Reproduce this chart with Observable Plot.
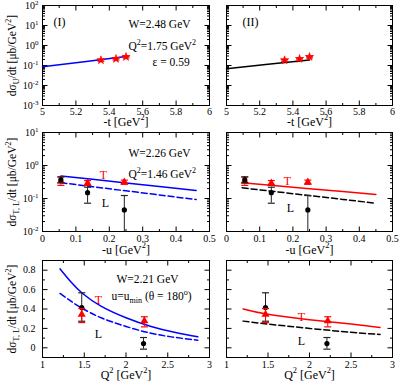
<!DOCTYPE html>
<html><head><meta charset="utf-8">
<script src="https://cdn.jsdelivr.net/npm/d3@7"></script>
<script src="https://cdn.jsdelivr.net/npm/@observablehq/plot@0.6"></script>
<style>
body{margin:0;background:#fff;}
#chart{position:relative;width:399px;height:388px;overflow:hidden;background:#fff;}
</style></head><body><div id="chart"></div>
<script>
// ---------- data ----------
// Row 1: dσ_U/dt vs -t
const tData = [5.35, 5.44, 5.50];
const sigU = [0.185, 0.215, 0.27];
const sigULo = [0.165, 0.19, 0.24];
const sigUHi = [0.205, 0.24, 0.30];
const tCurveI = [5.0, 5.25, 5.51];
const sigUCurveI = [0.086, 0.155, 0.29];
const tCurveII = [5.0, 5.25, 5.5];
const sigUCurveII = [0.068, 0.114, 0.19];

// Row 2: dσ_T,L/dt vs -u
const uData = [0.055, 0.135, 0.245];
const sigTu = [0.335, 0.29, 0.31];
const sigTuLo = [0.25, 0.25, 0.27];
const sigTuHi = [0.45, 0.35, 0.36];
const sigLu = [0.37, 0.15, 0.045];
const sigLuLo = [0.30, 0.072, 0.005];
const sigLuHi = [0.45, 0.22, 0.123];
const uCurveI = [0.055, 0.15, 0.25, 0.35, 0.46];
const sigTuCurveI = [0.48, 0.38, 0.295, 0.23, 0.175];
const sigLuCurveI = [0.30, 0.228, 0.171, 0.128, 0.093];
const uCurveII = [0.047, 0.15, 0.25, 0.35, 0.45];
const sigTuCurveII = [0.30, 0.243, 0.199, 0.162, 0.132];
const sigLuCurveII = [0.21, 0.16, 0.123, 0.094, 0.072];

// Row 3: dσ_T,L/dt vs Q^2
const q2T = [1.47, 2.22];
const sigTq = [0.343, 0.278];
const sigTqLo = [0.26, 0.216];
const sigTqHi = [0.405, 0.32];
const q2L = [1.47, 2.21];
const sigLq = [0.415, 0.044];
const sigLqLo = [0.274, -0.014];
const sigLqHi = [0.567, 0.106];
const q2CurveI = [1.21, 1.35, 1.48, 1.7, 2.0, 2.3, 2.58, 2.86];
const sigTqCurveI = [0.814, 0.67, 0.56, 0.43, 0.31, 0.22, 0.16, 0.113];
const sigLqCurveI = [0.56, 0.475, 0.405, 0.31, 0.22, 0.15, 0.108, 0.078];
const q2CurveII = [1.2, 1.5, 2.0, 2.5, 2.85];
const sigTqCurveII = [0.40, 0.345, 0.29, 0.245, 0.21];
const sigLqCurveII = [0.275, 0.245, 0.2, 0.16, 0.137];

// tick labels
const tTicks = [5, 5.2, 5.4, 5.6, 5.8, 6];
const uTicks = [0, 0.1, 0.2, 0.3, 0.4, 0.5];
const q2Ticks = [1, 1.5, 2, 2.5, 3];
const lin3Ticks = [0, 0.2, 0.4, 0.6, 0.8];
const logTicks1 = [1e-3, 1e-2, 1e-1, 1, 10, 100];
const logTicks2 = [1e-2, 1e-1, 1, 10];

// ---------- helpers ----------
const FONT = '"Liberation Serif", "DejaVu Serif", serif';
const BLUE = "#0000ff", RED = "#ff0000";
const zip = (xs, ys) => xs.map((x, i) => ({x, y: ys[i]}));
const pts = (xs, ys, lo, hi) => xs.map((x, i) => ({x, y: ys[i], lo: lo[i], hi: hi[i]}));
const sym = (dx, dy) => ({draw(c){ c.moveTo(0, 0); c.lineTo(dx, dy); }});
const capSym = {draw(c){ c.moveTo(-3.5, 0); c.lineTo(3.5, 0); }};
const num = d => String(+(+d).toFixed(3));
const pow10 = d => `10^{${Math.round(Math.log10(d))}}`;
function minorLog(lo, hi){ const out=[]; for(let k=lo;k<hi;k++) for(let m=2;m<=9;m++) out.push(m*Math.pow(10,k)); return out; }
function steps(a, b, s){ const out=[]; for(let v=a; v<=b+1e-9; v+=s) out.push(+v.toFixed(6)); return out; }

function frameTicks(xMaj, xMin, yMaj, yMin){
  const o = {stroke: "black", strokeWidth: 1, fill: "none"};
  return [
    Plot.dot(xMaj, {x: d => d, frameAnchor: "bottom", symbol: sym(0, -5), ...o}),
    Plot.dot(xMaj, {x: d => d, frameAnchor: "top", symbol: sym(0, 5), ...o}),
    Plot.dot(xMin, {x: d => d, frameAnchor: "bottom", symbol: sym(0, -2.5), ...o}),
    Plot.dot(xMin, {x: d => d, frameAnchor: "top", symbol: sym(0, 2.5), ...o}),
    Plot.dot(yMaj, {y: d => d, frameAnchor: "left", symbol: sym(5, 0), ...o}),
    Plot.dot(yMaj, {y: d => d, frameAnchor: "right", symbol: sym(-5, 0), ...o}),
    Plot.dot(yMin, {y: d => d, frameAnchor: "left", symbol: sym(2.5, 0), ...o}),
    Plot.dot(yMin, {y: d => d, frameAnchor: "right", symbol: sym(-2.5, 0), ...o})
  ];
}
function errorBars(data, color, clip){
  return [
    Plot.ruleX(data, {x: "x", y1: "lo", y2: "hi", stroke: color, strokeWidth: 1, clip}),
    Plot.dot(data, {x: "x", y: "lo", symbol: capSym, stroke: color, strokeWidth: 1.2, fill: "none", clip}),
    Plot.dot(data, {x: "x", y: "hi", symbol: capSym, stroke: color, strokeWidth: 1.2, fill: "none", clip})
  ];
}
const label = (s, o) => Plot.text([s], {text: d => d, fontSize: 12, textAnchor: "middle", ...o});
const note = (s, dx, dy, o = {}) => Plot.text([s], {text: d => d, frameAnchor: "top-left", textAnchor: "start", dx, dy, fontSize: 11.5, ...o});

function richify(root){
  root.querySelectorAll("text").forEach(t => {
    const s = t.textContent;
    if (!/[\^_]\{/.test(s)) return;
    const fs = parseFloat(getComputedStyle(t).fontSize) || 10;
    t.textContent = "";
    const re = /([\^_])\{([^}]*)\}/g;
    let last = 0, m, shift = 0;
    const add = (str, kind) => {
      if (!str) return;
      const ts = document.createElementNS("http://www.w3.org/2000/svg", "tspan");
      const target = kind === "^" ? -0.42 * fs : kind === "_" ? 0.28 * fs : 0;
      const dy = target - shift; shift = target;
      if (dy) ts.setAttribute("dy", dy.toFixed(2));
      if (kind) ts.setAttribute("font-size", (0.7 * fs).toFixed(2));
      ts.textContent = str;
      t.appendChild(ts);
    };
    while ((m = re.exec(s))) { add(s.slice(last, m.index), null); add(m[2], m[1]); last = re.lastIndex; }
    add(s.slice(last), null);
  });
}

const chart = document.getElementById("chart");
function place(svg, left, top){
  svg.style.position = "absolute";
  svg.style.left = left + "px";
  svg.style.top = top + "px";
  chart.appendChild(svg);
  richify(svg);
}

// geometry
const COLS = [{left: 0, width: 215, ml: 42, mr: 6}, {left: 215, width: 184, ml: 11, mr: 7}];
const ROWS = [{top: 0, height: 128, mt: 5, mb: 23}, {top: 128, height: 128, mt: 4, mb: 25}, {top: 256, height: 132, mt: 4, mb: 31}];

function makePlot(r, c, cfg){
  const R = ROWS[r], C = COLS[c];
  const svg = Plot.plot({
    width: C.width, height: R.height,
    marginLeft: C.ml, marginRight: C.mr, marginTop: R.mt, marginBottom: R.mb,
    style: {fontFamily: FONT, fontSize: "10px", background: "transparent", overflow: "visible", color: "black"},
    x: {domain: cfg.xDomain, ticks: cfg.xTicks, tickFormat: num, tickSize: 0, tickPadding: cfg.xPad, label: null},
    y: {type: cfg.yType, domain: cfg.yDomain, ticks: cfg.yTicks, tickFormat: cfg.yFormat, tickSize: 0, tickPadding: cfg.yPad, label: null, axis: c === 0 ? "left" : null},
    marks: [
      Plot.frame({stroke: "black", strokeWidth: 1}),
      ...frameTicks(cfg.xMaj, cfg.xMin, cfg.yMaj, cfg.yMin),
      ...cfg.marks,
      label(cfg.xLabel, {frameAnchor: "bottom", dy: cfg.xLabelDy}),
      ...(c === 0 ? [label(cfg.yLabel, {frameAnchor: "left", dx: -30, rotate: -90, fontSize: 11.5})] : [])
    ]
  });
  place(svg, C.left, R.top);
}

// ---------- Row 1 ----------
const row1 = (c, curve, color, extra) => ({
  xDomain: [5, 6], xTicks: tTicks, xPad: 2, xMaj: tTicks, xMin: steps(5.1, 5.9, 0.2),
  yType: "log", yDomain: [1e-3, 1e2], yTicks: logTicks1, yFormat: pow10, yPad: 4,
  yMaj: logTicks1, yMin: minorLog(-3, 2),
  xLabel: "-t [GeV^{2}]", xLabelDy: 20, yLabel: "dσ_{U}/dt [μb/GeV^{2}]",
  marks: [
    Plot.line(curve, {x: "x", y: "y", stroke: color, strokeWidth: 1.5}),
    ...errorBars(pts(tData, sigU, sigULo, sigUHi), RED),
    Plot.dot(zip(tData, sigU), {x: "x", y: "y", symbol: "star", r: 2.6, fill: RED, stroke: RED, strokeWidth: 0.6}),
    ...extra
  ]
});
makePlot(0, 0, row1(0, zip(tCurveI, sigUCurveI), BLUE, [
  note("(I)", 11, 12, {fontSize: 12}),
  note("W=2.48 GeV", 86, 14),
  note("Q^{2}=1.75 GeV^{2}", 86, 36),
  note("ε = 0.59", 110, 52)
]));
makePlot(0, 1, row1(1, zip(tCurveII, sigUCurveII), "black", [
  note("(II)", 16, 12, {fontSize: 12})
]));

// ---------- Row 2 ----------
const row2 = (tC, lC, color, extra) => ({
  xDomain: [0, 0.5], xTicks: uTicks, xPad: 3, xMaj: uTicks, xMin: steps(0.05, 0.45, 0.1),
  yType: "log", yDomain: [1e-2, 10], yTicks: logTicks2, yFormat: pow10, yPad: 4,
  yMaj: logTicks2, yMin: minorLog(-2, 1),
  xLabel: "-u [GeV^{2}]", xLabelDy: 22, yLabel: "dσ_{T, L}/dt [μb/GeV^{2}]",
  marks: [
    Plot.line(tC, {x: "x", y: "y", stroke: color, strokeWidth: 1.5}),
    Plot.line(lC, {x: "x", y: "y", stroke: color === BLUE ? BLUE : "black", strokeWidth: 1.5, strokeDasharray: "6,3"}),
    ...errorBars(pts(uData, sigTu, sigTuLo, sigTuHi), RED),
    Plot.dot(zip(uData, sigTu), {x: "x", y: "y", symbol: "triangle", r: 3, fill: RED, stroke: "none"}),
    ...errorBars(pts(uData, sigLu, sigLuLo, sigLuHi), "#222", "frame"),
    Plot.dot(zip(uData, sigLu), {x: "x", y: "y", r: 2.6, fill: "black", stroke: "none"}),
    ...extra
  ]
});
makePlot(1, 0, row2(zip(uCurveI, sigTuCurveI), zip(uCurveI, sigLuCurveI), BLUE, [
  note("W=2.26 GeV", 86, 16),
  note("Q^{2}=1.46 GeV^{2}", 86, 37),
  note("T", 61, 38, {fill: RED, textAnchor: "middle", fontSize: 12}),
  note("L", 63, 66, {textAnchor: "middle", fontSize: 12})
]));
makePlot(1, 1, row2(zip(uCurveII, sigTuCurveII), zip(uCurveII, sigLuCurveII), RED, [
  note("T", 61, 44, {fill: RED, textAnchor: "middle", fontSize: 12}),
  note("L", 64, 71, {textAnchor: "middle", fontSize: 12})
]));

// ---------- Row 3 ----------
const row3 = (tC, lC, color, extra) => ({
  xDomain: [1, 3], xTicks: q2Ticks, xPad: 3, xMaj: q2Ticks, xMin: steps(1.25, 2.75, 0.5),
  yType: "linear", yDomain: [-0.1, 0.9], yTicks: lin3Ticks, yFormat: num, yPad: 7,
  yMaj: lin3Ticks, yMin: steps(-0.1, 0.9, 0.2),
  xLabel: "Q^{2} [GeV^{2}]", xLabelDy: 21, yLabel: "dσ_{T, L}/dt [μb/GeV^{2}]",
  marks: [
    Plot.line(tC, {x: "x", y: "y", stroke: color, strokeWidth: 1.5, curve: "natural"}),
    Plot.line(lC, {x: "x", y: "y", stroke: color === BLUE ? BLUE : "black", strokeWidth: 1.5, strokeDasharray: "6,3", curve: "natural"}),
    ...errorBars(pts(q2L, sigLq, sigLqLo, sigLqHi), "#222"),
    Plot.dot(zip(q2L, sigLq), {x: "x", y: "y", r: 2.6, fill: "black", stroke: "none"}),
    ...errorBars(pts(q2T, sigTq, sigTqLo, sigTqHi), RED),
    Plot.dot(zip(q2T, sigTq), {x: "x", y: "y", symbol: "triangle", r: 3, fill: RED, stroke: "none"}),
    ...extra
  ]
});
makePlot(2, 0, row3(zip(q2CurveI, sigTqCurveI), zip(q2CurveI, sigLqCurveI), BLUE, [
  note("W=2.21 GeV", 74, 14),
  note("u=u_{min} (θ = 180^{o})", 69, 31),
  note("T", 56, 35, {fill: RED, textAnchor: "middle", fontSize: 12}),
  note("L", 56, 69, {textAnchor: "middle", fontSize: 12})
]));
makePlot(2, 1, row3(zip(q2CurveII, sigTqCurveII), zip(q2CurveII, sigLqCurveII), RED, [
  note("T", 75, 52, {fill: RED, textAnchor: "middle", fontSize: 12}),
  note("L", 75, 76, {textAnchor: "middle", fontSize: 12})
]));
</script></body></html>
